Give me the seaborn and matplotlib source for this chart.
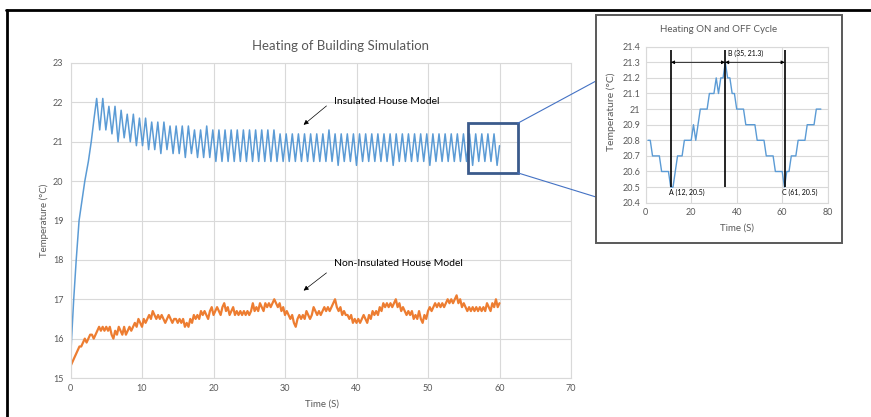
import numpy as np
import matplotlib
matplotlib.use("Agg")
import matplotlib.pyplot as plt
import seaborn as sns
from matplotlib.patches import Rectangle, ConnectionPatch
from matplotlib.lines import Line2D

# ---- data ----
# insulated house: warm-up ramp, then on/off cycles (peak and trough of each cycle)
ramp_time = [0.0, 0.15, 0.45, 0.8, 1.2, 1.6, 2.0, 2.5, 2.9, 3.3]
ramp_temp = [15.4, 16.0, 17.0, 18.0, 19.0, 19.5, 20.0, 20.5, 21.0, 21.6]
first_peak_time = 3.66
cycle_len = 0.855
peak_temp = [22.1, 22.1, 21.9, 21.9, 21.8, 21.7, 21.7, 21.6, 21.6, 21.5,
             21.5, 21.5, 21.4, 21.4, 21.4, 21.4, 21.3, 21.3, 21.4, 21.3,
             21.3, 21.3, 21.3, 21.3, 21.3, 21.3, 21.3, 21.3, 21.3, 21.3,
             21.2, 21.2, 21.2, 21.2, 21.2, 21.2, 21.2, 21.2, 21.3, 21.2,
             21.2, 21.2, 21.2, 21.2, 21.2, 21.2, 21.2, 21.2, 21.2, 21.2,
             21.2, 21.2, 21.2, 21.2, 21.2, 21.2, 21.2, 21.2, 21.2, 21.2,
             21.2, 21.2, 21.2, 21.2, 21.2, 21.2]
trough_temp = [21.3, 21.3, 21.2, 21.0, 21.1, 21.0, 20.9, 20.9, 20.8, 20.8,
               20.7, 20.8, 20.7, 20.7, 20.6, 20.7, 20.6, 20.6, 20.6, 20.5,
               20.5, 20.5, 20.5, 20.5, 20.5, 20.5, 20.5, 20.5, 20.5, 20.5,
               20.5, 20.5, 20.5, 20.5, 20.5, 20.5, 20.5, 20.5, 20.5, 20.4,
               20.5, 20.5, 20.4, 20.5, 20.5, 20.5, 20.5, 20.5, 20.4, 20.5,
               20.5, 20.5, 20.5, 20.5, 20.4, 20.5, 20.5, 20.5, 20.5, 20.5,
               20.5, 20.4, 20.5, 20.5, 20.5, 20.4]
end_time, end_temp = 60.0, 20.9

# non-insulated house, one value every 0.25 s from 0 to 60 s
noins_step = 0.25
noins_temp = [
    15.3, 15.4, 15.5, 15.6, 15.7, 15.8, 15.8, 15.9, 16.0, 15.9, 16.0, 16.1,
    16.1, 16.0, 16.1, 16.2, 16.3, 16.2, 16.3, 16.2, 16.3, 16.2, 16.3, 16.1,
    16.0, 16.2, 16.1, 16.3, 16.2, 16.1, 16.3, 16.1, 16.2, 16.3, 16.2, 16.3,
    16.4, 16.3, 16.5, 16.4, 16.3, 16.5, 16.4, 16.5, 16.6, 16.5, 16.7, 16.6,
    16.5, 16.6, 16.5, 16.6, 16.5, 16.4, 16.5, 16.6, 16.5, 16.4, 16.5, 16.5,
    16.4, 16.5, 16.4, 16.5, 16.3, 16.4, 16.3, 16.5, 16.4, 16.6, 16.5, 16.6,
    16.5, 16.7, 16.6, 16.7, 16.6, 16.5, 16.7, 16.8, 16.6, 16.7, 16.8, 16.7,
    16.6, 16.8, 16.9, 16.7, 16.8, 16.6, 16.7, 16.8, 16.6, 16.7, 16.6, 16.7,
    16.6, 16.7, 16.6, 16.7, 16.6, 16.7, 16.9, 16.7, 16.8, 16.7, 16.9, 16.8,
    16.7, 16.9, 16.8, 16.9, 16.8, 16.9, 17.0, 16.9, 16.8, 16.9, 16.7, 16.8,
    16.6, 16.7, 16.6, 16.5, 16.6, 16.4, 16.3, 16.5, 16.6, 16.5, 16.6, 16.5,
    16.7, 16.6, 16.5, 16.6, 16.8, 16.7, 16.6, 16.7, 16.6, 16.7, 16.8, 16.7,
    16.8, 16.7, 16.8, 16.9, 17.0, 16.8, 16.7, 16.8, 16.6, 16.7, 16.6, 16.6,
    16.5, 16.6, 16.4, 16.5, 16.4, 16.5, 16.4, 16.5, 16.6, 16.5, 16.4, 16.6,
    16.5, 16.7, 16.6, 16.7, 16.6, 16.8, 16.7, 16.9, 16.8, 16.9, 16.8, 16.9,
    16.8, 16.9, 17.0, 16.8, 16.9, 16.7, 16.8, 16.7, 16.6, 16.7, 16.6, 16.7,
    16.5, 16.6, 16.5, 16.7, 16.5, 16.4, 16.6, 16.5, 16.7, 16.8, 16.7, 16.8,
    16.9, 16.8, 16.9, 16.8, 16.9, 16.8, 16.9, 17.0, 16.9, 17.0, 16.9, 17.0,
    17.1, 16.9, 17.0, 16.8, 16.9, 16.8, 16.7, 16.8, 16.7, 16.8, 16.7, 16.8,
    16.7, 16.8, 16.7, 16.8, 16.7, 16.9, 16.8, 16.7, 16.9, 16.8, 17.0, 16.8,
    16.9]

# zoomed cycle (inset)
inset_time = list(range(1, 78))
inset_temp = [20.8, 20.8, 20.7, 20.7, 20.7, 20.7, 20.6, 20.6, 20.6, 20.6,
              20.5, 20.5, 20.6, 20.7, 20.7, 20.7, 20.8, 20.8, 20.8, 20.8,
              20.9, 20.8, 20.9, 21.0, 21.0, 21.0, 21.0, 21.1, 21.1, 21.1,
              21.2, 21.1, 21.2, 21.2, 21.3, 21.2, 21.2, 21.1, 21.1, 21.0,
              21.0, 21.0, 21.0, 20.9, 20.9, 20.9, 20.9, 20.9, 20.8, 20.8,
              20.8, 20.8, 20.7, 20.7, 20.7, 20.7, 20.6, 20.6, 20.6, 20.6,
              20.5, 20.6, 20.6, 20.7, 20.7, 20.7, 20.8, 20.8, 20.8, 20.8,
              20.9, 20.9, 20.9, 20.9, 21.0, 21.0, 21.0]
marker_time = [11.1, 34.9, 61.1]
marker_labels = ['A (12, 20.5)', 'B (35, 21.3)', 'C (61, 20.5)']

BLUE = '#5B9BD5'
ORANGE = '#ED7D31'
GREY = '#595959'
GRID = '#D9D9D9'

sns.set_theme(style="whitegrid")
plt.rcParams['font.family'] = ['Lato', 'DejaVu Sans']

W, H = 871, 417
fig = plt.figure(figsize=(W / 100, H / 100), dpi=100)


def fx(px):
    return px / W


def fy(py):
    return 1 - py / H


# ---- main chart ----
ax = fig.add_axes([fx(70.5), fy(378), 500.5 / W, 315 / H])

peak_t = first_peak_time + cycle_len * np.arange(len(peak_temp))
trough_t = peak_t + cycle_len / 2
ins_t = np.concatenate([ramp_time, np.column_stack([peak_t, trough_t]).ravel(), [end_time]])
ins_v = np.concatenate([ramp_temp, np.column_stack([peak_temp, trough_temp]).ravel(), [end_temp]])
sns.lineplot(x=ins_t, y=ins_v, ax=ax, color=BLUE, lw=1.1, estimator=None, sort=False)

noins_t = np.arange(len(noins_temp)) * noins_step
sns.lineplot(x=noins_t, y=noins_temp, ax=ax, color=ORANGE, lw=1.6, estimator=None)

ax.set_xlim(0, 70)
ax.set_ylim(15, 23)
ax.set_xticks(range(0, 71, 10))
ax.set_yticks(range(15, 24))
ax.grid(True, color=GRID, lw=0.8)
for s in ax.spines.values():
    s.set_color(GRID)
    s.set_linewidth(0.8)
ax.tick_params(length=0, labelsize=6.5, colors=GREY)
ax.tick_params(axis='y', pad=5)
ax.tick_params(axis='x', pad=4)
ax.set_xlabel('')
ax.set_ylabel('')

fig.text(fx(340), fy(45.5), 'Heating of Building Simulation', ha='center', va='center',
         fontsize=9.5, color=GREY)
fig.text(fx(321.5), fy(404.3), 'Time (S)', ha='center', va='center', fontsize=7, color=GREY)
fig.text(fx(44), fy(220), 'Temperature (°C)', ha='center', va='center', rotation=90,
         fontsize=7, color=GREY)

ax.text(36.8, 22.01, 'Insulated House Model', fontsize=7.5, color='black', va='center')
ax.annotate('', xy=(32.6, 21.43), xytext=(35.8, 21.91),
            arrowprops=dict(arrowstyle='-|>', color='black', lw=0.5, mutation_scale=7,
                            shrinkA=0, shrinkB=0))
ax.text(36.8, 17.91, 'Non-Insulated House Model', fontsize=7.5, color='black', va='center')
ax.annotate('', xy=(32.6, 17.22), xytext=(35.8, 17.67),
            arrowprops=dict(arrowstyle='-|>', color='black', lw=0.5, mutation_scale=7,
                            shrinkA=0, shrinkB=0))

# zoom box and connectors
bx0, bx1, by0, by1 = 55.55, 62.55, 20.21, 21.47
ax.add_patch(Rectangle((bx0, by0), bx1 - bx0, by1 - by0, fill=False,
                       ec='#3B5B8C', lw=2.0, zorder=6))
for (px, py), (qx, qy) in [((bx1, by1), (596, 81)), ((bx1, by0), (596, 197))]:
    fig.add_artist(ConnectionPatch(xyA=(px, py), coordsA=ax.transData,
                                   xyB=(fx(qx), fy(qy)), coordsB=fig.transFigure,
                                   color='#4472C4', lw=0.8))

# ---- inset ----
fig.add_artist(Rectangle((fx(596), fy(243)), (842 - 596) / W, (243 - 15) / H,
                         transform=fig.transFigure, fill=False, ec=GREY, lw=1.4))
axi = fig.add_axes([fx(645.7), fy(202.7), 182 / W, 156 / H])
sns.lineplot(x=inset_time, y=inset_temp, ax=axi, color=BLUE, lw=1.0, estimator=None)
axi.set_xlim(0, 80)
axi.set_ylim(20.4, 21.4)
axi.set_xticks(range(0, 81, 20))
yt = np.round(np.arange(20.4, 21.41, 0.1), 1)
axi.set_yticks(yt)
axi.set_yticklabels([f'{v:g}' for v in yt])
axi.grid(True, color=GRID, lw=0.8)
for s in axi.spines.values():
    s.set_color(GRID)
    s.set_linewidth(0.8)
axi.tick_params(length=0, labelsize=6.5, colors=GREY)
axi.tick_params(axis='y', pad=4)
axi.tick_params(axis='x', pad=4)
axi.set_xlabel('')
axi.set_ylabel('')

axi.vlines(marker_time, 20.5, 21.38, color='black', lw=1.2, zorder=5)
for a, b in [(marker_time[0], marker_time[1]), (marker_time[1], marker_time[2])]:
    axi.annotate('', xy=(a, 21.3), xytext=(b, 21.3),
                 arrowprops=dict(arrowstyle='<|-|>', color='black', lw=0.6,
                                 mutation_scale=5, shrinkA=0, shrinkB=0))
axi.text(10.2, 20.464, marker_labels[0], fontsize=5, va='center', ha='left', color='black')
axi.text(36.0, 21.358, marker_labels[1], fontsize=5, va='center', ha='left', color='black')
axi.text(59.8, 20.464, marker_labels[2], fontsize=5, va='center', ha='left', color='black')

fig.text(fx(719), fy(29.3), 'Heating ON and OFF Cycle', ha='center', va='center',
         fontsize=7, color=GREY)
fig.text(fx(736.7), fy(228.3), 'Time (S)', ha='center', va='center', fontsize=7, color=GREY)
fig.text(fx(611.7), fy(112), 'Temperature (°C)', ha='center', va='center', rotation=90,
         fontsize=7.5, color=GREY)

# outer frame (top and left edges of the screenshot)
fig.add_artist(Line2D([fx(6), 1], [fy(10), fy(10)], transform=fig.transFigure,
                      color='black', lw=2))
fig.add_artist(Line2D([fx(7), fx(7)], [fy(10), 0], transform=fig.transFigure,
                      color='black', lw=2))

fig.savefig('out.png', dpi=100)
